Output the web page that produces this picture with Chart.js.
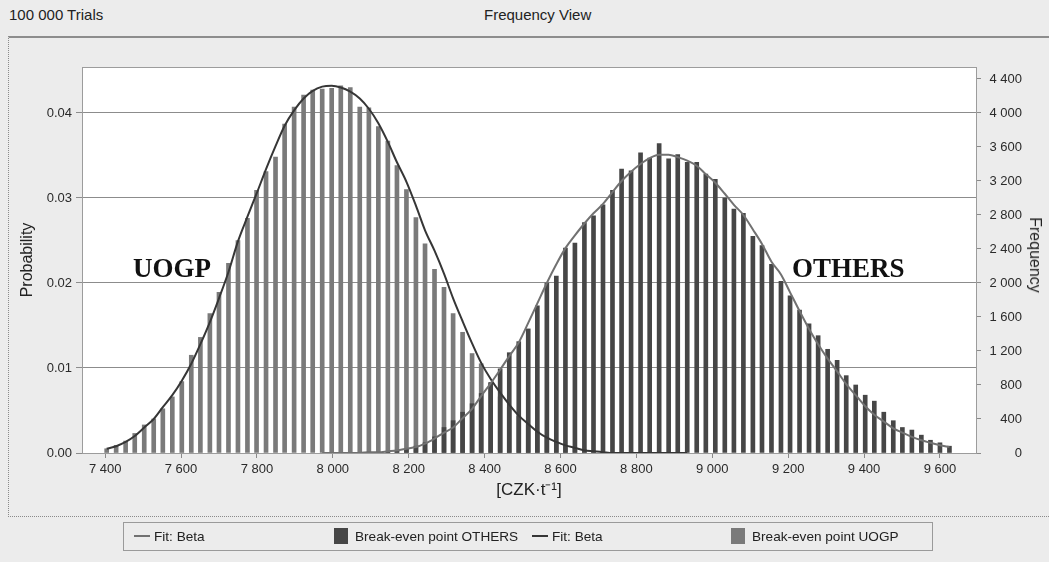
<!DOCTYPE html>
<html>
<head>
<meta charset="utf-8">
<script src="https://cdn.jsdelivr.net/npm/chart.js@4.4.1/dist/chart.umd.min.js"></script>
<style>
  html, body { margin: 0; padding: 0; }
  body { width: 1049px; height: 562px; background: #ececec; position: relative; overflow: hidden;
         font-family: "Liberation Sans", Arial, sans-serif; color: #222; }
  #frame { position: absolute; left: 8px; top: 36px; width: 1050px; height: 478px;
           border-left: 1px dotted #8a8a8a; border-bottom: 1px dotted #8a8a8a; border-top: 2px solid #8d8d8d; }
  #wrap { position: absolute; left: 0; top: 0; width: 1049px; height: 562px; }
  .hdr { position: absolute; top: 6px; font-size: 15px; line-height: 17px; white-space: nowrap; }
  .ann { position: absolute; font-family: "Liberation Serif", "Times New Roman", serif; font-weight: bold;
         font-size: 27px; line-height: 27px; color: #111; white-space: nowrap; }
  #freqTitle { position: absolute; left: 1035px; top: 255px; font-size: 16px; line-height: 16px; white-space: nowrap;
               transform: translate(-50%, -50%) rotate(90deg); }
  #legend { position: absolute; left: 123px; top: 522px; width: 808px; height: 27px; border: 1px solid #9a9a9a; }
  .li { position: absolute; top: 0; height: 27px; font-size: 13.6px; line-height: 27px; white-space: nowrap; }
  .ln { display: inline-block; width: 16px; height: 2px; vertical-align: middle; margin-right: 4px; position: relative; top: -1px; }
  .sq { display: inline-block; width: 14px; height: 16px; vertical-align: middle; margin-right: 7px; position: relative; top: -1px; }
</style>
</head>
<body>
<div id="frame"></div>
<div class="hdr" style="left:9px;">100 000 Trials</div>
<div class="hdr" style="left:484px;">Frequency View</div>
<div id="wrap"><canvas id="c" width="1049" height="562"></canvas></div>
<div class="ann" style="left:133px; top:255px;">UOGP</div>
<div class="ann" style="left:792px; top:255px;">OTHERS</div>
<div id="freqTitle">Frequency</div>
<div id="legend">
  <div class="li" style="left:10px;"><span class="ln" style="background:#717171"></span>Fit: Beta</div>
  <div class="li" style="left:210px;"><span class="sq" style="background:#464646"></span>Break-even point OTHERS</div>
  <div class="li" style="left:408px;"><span class="ln" style="background:#363636"></span>Fit: Beta</div>
  <div class="li" style="left:607px;"><span class="sq" style="background:#7a7a7a"></span>Break-even point UOGP</div>
</div>
<script>
// ---- data ----
const binCenters = [7404,7429,7454,7478,7503,7528,7552,7577,7602,7627,7651,7676,7700,7725,7750,7775,7799,7824,7849,7873,
  7898,7923,7947,7972,7997,8021,8046,8071,8095,8120,8145,8169,8194,8219,8243,8268,8293,8317,8342,8367,
  8391,8416,8441,8465,8490,8515,8539,8564,8589,8613,8638,8663,8687,8712,8737,8761,8786,8811,8835,8860,
  8885,8909,8934,8959,8983,9008,9033,9057,9082,9107,9131,9156,9181,9205,9230,9255,9279,9304,9329,9353,
  9378,9403,9427,9452,9477,9501,9526,9551,9575,9600,9625];

const uogpProb = [0.0005,0.0009,0.0014,0.0023,0.0033,0.0040,0.0052,0.0066,0.0084,0.0115,
  0.0136,0.0164,0.0189,0.0223,0.0250,0.0276,0.0309,0.0331,0.0348,0.0387,
  0.0407,0.0421,0.0427,0.0428,0.0429,0.0432,0.0430,0.0407,0.0406,0.0384,
  0.0367,0.0338,0.0310,0.0277,0.0246,0.0216,0.0195,0.0164,0.0142,0.0117,
  0.0105,0.0082,0.0066,0.0054,0.0043,0.0033,0.0025,0.0018,0.0013,0.0009,
  0.0006,0.0004,0.0002,0.0001,null,null,null,null,null,null,
  null,null,null,null,null,null,null,null,null,null,
  null,null,null,null,null,null,null,null,null,null,
  null,null,null,null,null,null,null,null,null,null,null];

const othersProb = [null,null,null,null,null,null,null,null,null,null,
  null,null,null,null,null,null,null,null,null,null,
  null,null,null,null,null,null,null,null,0.0001,0.0001,
  0.0002,0.0003,0.0005,0.0008,0.0012,0.0019,0.0030,0.0038,0.0048,0.0058,
  0.0070,0.0083,0.0099,0.0118,0.0131,0.0146,0.0173,0.0200,0.0208,0.0241,
  0.0247,0.0271,0.0279,0.0292,0.0309,0.0334,0.0332,0.0353,0.0347,0.0364,
  0.0346,0.0351,0.0342,0.0342,0.0328,0.0322,0.0300,0.0287,0.0282,0.0255,
  0.0244,0.0222,0.0202,0.0185,0.0168,0.0152,0.0138,0.0122,0.0109,0.0091,
  0.0080,0.0068,0.0061,0.0048,0.0038,0.0030,0.0027,0.0021,0.0015,0.0012,0.0008];

const uogpFit = [0.0005,0.0008,0.0013,0.0020,0.0030,0.0040,0.0054,0.0068,0.0085,0.0105,
  0.0128,0.0154,0.0182,0.0213,0.0249,0.0278,0.0305,0.0334,0.0361,0.0385,
  0.0403,0.0417,0.0426,0.0431,0.0432,0.0430,0.0425,0.0417,0.0405,0.0388,
  0.0366,0.0342,0.0319,0.0291,0.0262,0.0238,0.0211,0.0182,0.0155,0.0129,
  0.0106,0.0087,0.0071,0.0057,0.0044,0.0034,0.0025,0.0018,0.0013,0.0009,
  0.0006,0.0003,0.0002,0.0001,0,0,0,0,0,0,
  0,0,0,null,null,null,null,null,null,null,
  null,null,null,null,null,null,null,null,null,null,
  null,null,null,null,null,null,null,null,null,null,null];

const othersFit = [null,null,null,null,null,null,null,null,null,null,
  null,null,null,null,null,null,null,null,null,null,
  null,null,null,0,0,0,0,0,0.0001,0.0001,
  0.0002,0.0003,0.0005,0.0007,0.0011,0.0017,0.0024,0.0030,0.0041,0.0052,
  0.0067,0.0082,0.0098,0.0114,0.0130,0.0153,0.0176,0.0200,0.0222,0.0241,
  0.0256,0.0270,0.0282,0.0293,0.0307,0.0320,0.0331,0.0340,0.0347,0.0351,
  0.0351,0.0348,0.0344,0.0338,0.0328,0.0318,0.0305,0.0292,0.0280,0.0263,
  0.0246,0.0225,0.0210,0.0189,0.0167,0.0146,0.0128,0.0111,0.0096,0.0081,
  0.0068,0.0055,0.0045,0.0037,0.0029,0.0024,0.0019,0.0015,0.0012,0.0009,0.0007];

const xTickValues = [7400,7600,7800,8000,8200,8400,8600,8800,9000,9200,9400,9600];
const probTicks = [0,0.01,0.02,0.03,0.04];
const freqTicks = [0,400,800,1200,1600,2000,2400,2800,3200,3600,4000,4400];
const TRIALS = 100000;

// ---- helpers ----
const pts = (arr) => binCenters.map((x, i) => ({x: x, y: arr[i]})).filter(p => p.y !== null);
const fmt = (v) => String(v).replace(/\B(?=(\d{3})+(?!\d))/g, ' ');
const tickFont = {family: "'Liberation Sans', Arial, sans-serif", size: 13};

const X_MIN = 7339, X_MAX = 9695, P_MAX = 0.04541;

const plotFrame = {
  id: 'plotFrame',
  afterDraw(chart) {
    const a = chart.chartArea, ctx = chart.ctx;
    ctx.save();
    ctx.strokeStyle = '#9c9c9c';
    ctx.lineWidth = 1;
    ctx.strokeRect(Math.round(a.left) + 0.5, Math.round(a.top) + 0.5, Math.round(a.right - a.left), Math.round(a.bottom - a.top));
    ctx.restore();
  }
};
const whiteArea = {
  id: 'whiteArea',
  beforeDraw(chart) {
    const a = chart.chartArea, ctx = chart.ctx;
    ctx.save(); ctx.fillStyle = '#ffffff';
    ctx.fillRect(a.left, a.top, a.right - a.left, a.bottom - a.top);
    ctx.restore();
  }
};

new Chart(document.getElementById('c'), {
  data: {
    datasets: [
      { type: 'line', label: 'Fit: Beta', data: pts(othersFit), borderColor: '#717171', borderWidth: 2,
        pointRadius: 0, cubicInterpolationMode: 'monotone', yAxisID: 'y' },
      { type: 'line', label: 'Fit: Beta', data: pts(uogpFit), borderColor: '#363636', borderWidth: 2,
        pointRadius: 0, cubicInterpolationMode: 'monotone', yAxisID: 'y' },
      { type: 'bar', label: 'Break-even point OTHERS', data: pts(othersProb), backgroundColor: '#464646',
        barThickness: 4, grouped: false, yAxisID: 'y' },
      { type: 'bar', label: 'Break-even point UOGP', data: pts(uogpProb), backgroundColor: '#7a7a7a',
        barThickness: 4, grouped: false, yAxisID: 'y' }
    ]
  },
  options: {
    responsive: false, animation: false, devicePixelRatio: 1,
    layout: { padding: { left: 14, right: 27, top: 67, bottom: 58.4 } },
    plugins: { legend: { display: false }, tooltip: { enabled: false } },
    scales: {
      x: {
        type: 'linear', min: X_MIN, max: X_MAX, position: 'bottom', offset: false,
        afterBuildTicks: (s) => { s.ticks = xTickValues.map(v => ({value: v})); },
        afterFit: (s) => { s.height = 50.6; },
        ticks: { font: tickFont, color: '#2a2a2a', padding: 4, maxRotation: 0, autoSkip: false, callback: (v) => fmt(v) },
        grid: { display: true, offset: false, drawOnChartArea: false, drawTicks: true, tickLength: 5, color: '#8a8a8a' },
        border: { display: false },
        title: { display: true, text: '[CZK·t⁻¹]', font: {family: "'Liberation Sans', Arial, sans-serif", size: 17},
                 color: '#222', padding: {top: 4, bottom: 3} }
      },
      y: {
        type: 'linear', position: 'left', min: 0, max: P_MAX,
        afterBuildTicks: (s) => { s.ticks = probTicks.map(v => ({value: v})); },
        afterFit: (s) => { s.width = 68; },
        ticks: { font: tickFont, color: '#2a2a2a', padding: 4, callback: (v) => v.toFixed(2) },
        grid: { color: '#8c8c8c', lineWidth: 1, tickLength: 6, drawTicks: true },
        border: { display: false },
        title: { display: true, text: 'Probability', font: {family: "'Liberation Sans', Arial, sans-serif", size: 16},
                 color: '#222', padding: {top: 4, bottom: 4} }
      },
      yFreq: {
        type: 'linear', position: 'right', min: 0, max: P_MAX * TRIALS,
        afterBuildTicks: (s) => { s.ticks = freqTicks.map(v => ({value: v})); },
        afterFit: (s) => { s.width = 46; },
        ticks: { font: tickFont, color: '#2a2a2a', padding: 6, crossAlign: 'far', callback: (v) => fmt(v) },
        grid: { drawOnChartArea: false, drawTicks: true, tickLength: 5, color: '#8a8a8a' },
        border: { display: false }
      }
    }
  },
  plugins: [whiteArea, plotFrame]
});
</script>
</body>
</html>
